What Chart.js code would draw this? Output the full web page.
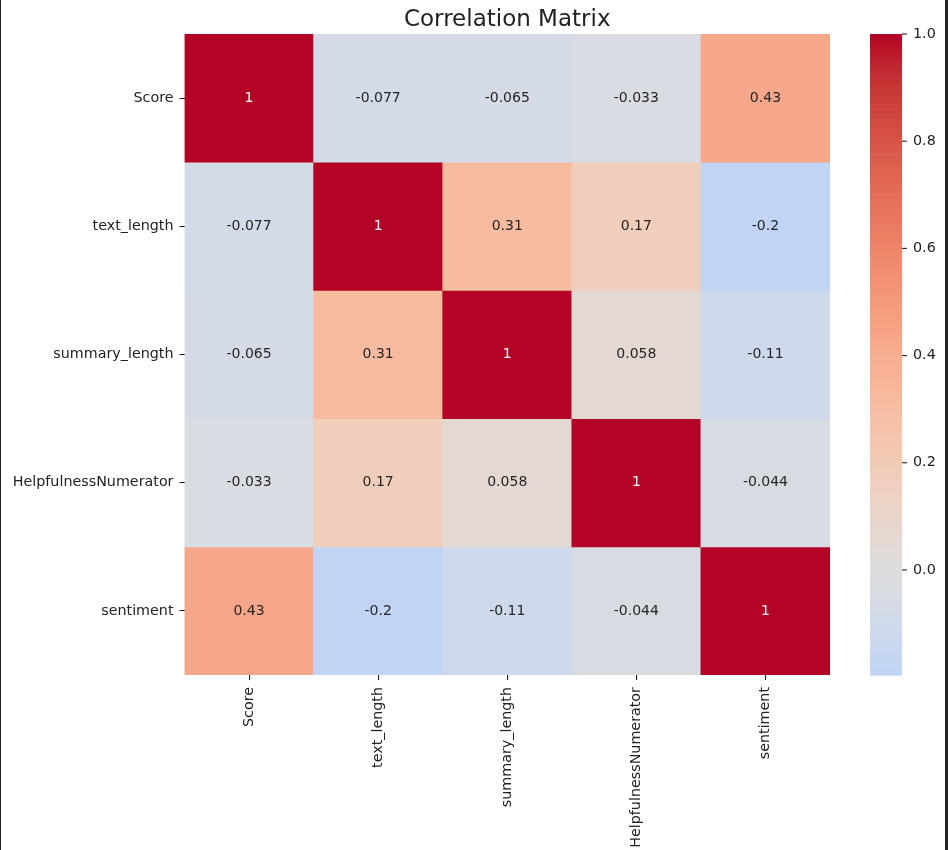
<!DOCTYPE html>
<html><head><meta charset="utf-8">
<script src="https://cdn.jsdelivr.net/npm/chart.js@4"></script>
<style>
html,body{margin:0;padding:0;background:#fff;}
#wrap{position:relative;width:948px;height:850px;overflow:hidden;}
canvas{display:block}
.frameL{position:absolute;left:0;top:0;width:1px;height:850px;background:#222}
.frameR{position:absolute;right:0;top:0;width:3px;height:850px;background:#222}
</style></head>
<body><div id="wrap"><canvas id="c" width="948" height="850"></canvas><div class="frameL"></div><div class="frameR"></div></div>
<script>
// ---- data ----
const variables = ['Score', 'text_length', 'summary_length', 'HelpfulnessNumerator', 'sentiment'];
const rowScore         = [1, -0.077, -0.065, -0.033, 0.43];
const rowTextLength    = [-0.077, 1, 0.31, 0.17, -0.196];
const rowSummaryLength = [-0.065, 0.31, 1, 0.058, -0.11];
const rowHelpfulness   = [-0.033, 0.17, 0.058, 1, -0.044];
const rowSentiment     = [0.43, -0.196, -0.11, -0.044, 1];
const colorbarTicks = [0, 0.2, 0.4, 0.6, 0.8, 1.0];
const chartTitle = 'Correlation Matrix';

const matrix = [rowScore, rowTextLength, rowSummaryLength, rowHelpfulness, rowSentiment];
const allVals = matrix.flat();
const vMin = Math.min(...allVals), vMax = Math.max(...allVals);

// ---- coolwarm colormap (centered at 0) ----
const CW = [[59,76,192],[68,90,204],[77,104,215],[87,117,225],[98,130,234],[108,142,241],[119,154,247],[130,165,251],[141,176,254],[152,185,255],[163,194,255],[174,201,253],[184,208,249],[194,213,244],[204,217,238],[213,219,230],[221,221,221],[229,216,209],[236,211,197],[241,204,184],[245,196,172],[247,187,160],[247,177,148],[247,166,135],[244,154,123],[241,141,111],[236,127,99],[229,112,88],[222,96,77],[213,80,66],[203,62,56],[192,40,47],[180,4,38]];
function coolwarm(t){
  t = Math.max(0, Math.min(1, t));
  const p = t * (CW.length - 1), i = Math.min(CW.length - 2, Math.floor(p)), f = p - i;
  return CW[i].map((c, k) => Math.round(c + (CW[i+1][k] - c) * f));
}
function cellRGB(v){ return coolwarm((v + 1) / 2); }
function rgbStr(c){ return 'rgb(' + c.join(',') + ')'; }
function lum(c){
  const l = c.map(x => { x /= 255; return x <= 0.03928 ? x / 12.92 : Math.pow((x + 0.055) / 1.055, 2.4); });
  return 0.2126 * l[0] + 0.7152 * l[1] + 0.0722 * l[2];
}
function fmt(v){ return parseFloat(v.toPrecision(2)).toString(); }

const FONT = 'DejaVu Sans';
Chart.defaults.font.family = FONT;
Chart.defaults.font.size = 14;
Chart.defaults.color = '#222';

const datasets = matrix.map((vals, r) => ({
  label: variables[r],
  data: vals.map(() => [r, r + 1]),
  cellValues: vals,
  backgroundColor: vals.map(v => rgbStr(cellRGB(v))),
  borderWidth: 0,
  barPercentage: 1,
  categoryPercentage: 1,
  grouped: false,
  yAxisID: 'y'
}));

const annotatePlugin = {
  id: 'annotate',
  afterDatasetsDraw(chart){
    const ctx = chart.ctx;
    ctx.save();
    ctx.font = '14px "' + FONT + '"';
    ctx.textAlign = 'center';
    ctx.textBaseline = 'middle';
    chart.data.datasets.forEach((ds, di) => {
      const meta = chart.getDatasetMeta(di);
      meta.data.forEach((el, j) => {
        const v = ds.cellValues[j];
        ctx.fillStyle = lum(cellRGB(v)) > 0.408 ? '#262626' : '#ffffff';
        ctx.fillText(fmt(v), el.x, (el.y + el.base) / 2);
      });
    });
    ctx.restore();
  }
};

const colorbarPlugin = {
  id: 'colorbar',
  afterDraw(chart){
    const s = chart.scales.cb;
    const ctx = chart.ctx;
    const x0 = s.left + 40, w = 32;
    const steps = 256;
    ctx.save();
    for (let i = 0; i < steps; i++){
      const a = s.min + (s.max - s.min) * i / steps;
      const b = s.min + (s.max - s.min) * (i + 1) / steps;
      const ya = s.getPixelForValue(a), yb = s.getPixelForValue(b);
      ctx.fillStyle = rgbStr(cellRGB((a + b) / 2));
      ctx.fillRect(x0, yb, w, ya - yb + 0.6);
    }
    ctx.strokeStyle = '#222';
    ctx.lineWidth = 1.1;
    colorbarTicks.forEach(v => {
      const y = s.getPixelForValue(v);
      ctx.beginPath();
      ctx.moveTo(x0 + w, y);
      ctx.lineTo(x0 + w + 5, y);
      ctx.stroke();
    });
    ctx.restore();
  }
};

new Chart(document.getElementById('c'), {
  type: 'bar',
  data: { labels: variables, datasets },
  plugins: [annotatePlugin, colorbarPlugin],
  options: {
    responsive: false,
    animation: false,
    layout: { padding: 0 },
    plugins: {
      legend: { display: false },
      tooltip: { enabled: false },
      title: {
        display: true, text: chartTitle, fullSize: false, color: '#222',
        font: { family: FONT, size: 23, weight: 'normal', lineHeight: 1.2 },
        padding: { top: 6, bottom: 0.4 }
      }
    },
    scales: {
      x: {
        type: 'category', position: 'bottom', offset: true,
        grid: { display: true, drawOnChartArea: false, drawTicks: true, tickLength: 5, offset: false, color: '#222', lineWidth: 1.1 },
        border: { display: false },
        ticks: { autoSkip: false, maxRotation: 90, minRotation: 90, padding: 7, color: '#222', font: { family: FONT, size: 14.3 } },
        afterFit(s){ s.height = 175; }
      },
      y: {
        type: 'linear', position: 'left', min: 0, max: 5, reverse: true,
        afterBuildTicks(s){ s.ticks = variables.map((_, i) => ({ value: i + 0.5 })); },
        grid: { display: true, drawOnChartArea: false, drawTicks: true, tickLength: 5, color: '#222', lineWidth: 1.1 },
        border: { display: false },
        ticks: { callback: v => variables[Math.floor(v)], padding: 6, color: '#222', font: { family: FONT, size: 14.3 } },
        afterFit(s){ s.width = 184.5; s.paddingTop = 0; s.paddingBottom = 0; }
      },
      cb: {
        type: 'linear', position: 'right', min: vMin, max: vMax,
        afterBuildTicks(s){ s.ticks = colorbarTicks.map(v => ({ value: v })); },
        grid: { display: false, drawTicks: false },
        border: { display: false },
        ticks: { callback: v => Number(v).toFixed(1), padding: 83, color: '#222', font: { family: FONT, size: 14.3 } },
        afterFit(s){ s.width = 118; s.paddingTop = 0; s.paddingBottom = 0; }
      }
    }
  }
});
</script>
</body></html>
